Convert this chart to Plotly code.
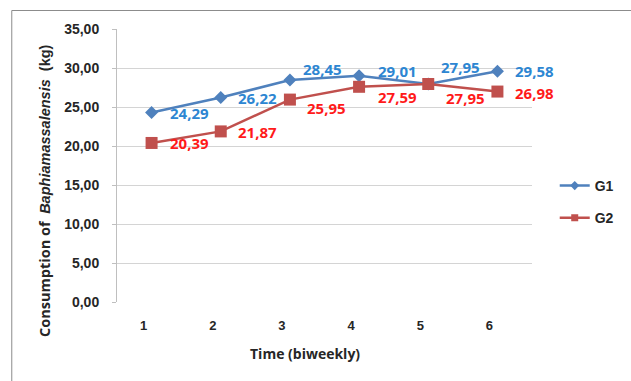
import plotly.graph_objects as go

# Biweekly consumption per group
periods = [1, 2, 3, 4, 5, 6]
g1_values = [24.29, 26.22, 28.45, 29.01, 27.95, 29.58]
g2_values = [20.39, 21.87, 25.95, 27.59, 27.95, 26.98]
y_ticks = [0, 5, 10, 15, 20, 25, 30, 35]

# Label offsets (pixels) relative to each point
g1_label_dx = [16, 15, 11, 17, 11, 16]
g1_label_dy = [0, -1, 11, 5, 17, 0]
g2_label_dx = [16, 15, 15, 17, 16, 16]
g2_label_dy = [0, -1, -8, -10, -14, -1]

BLUE_LINE = "#4F81BD"
RED_LINE = "#C0504D"
BLUE_TEXT = "#2D86D2"
RED_TEXT = "#FF1A1A"

fig = go.Figure()
fig.add_trace(go.Scatter(
    x=periods, y=g1_values, name="G1", mode="lines+markers",
    line=dict(color=BLUE_LINE, width=2.5),
    marker=dict(symbol="diamond", size=10, color=BLUE_LINE),
    showlegend=False,
))
fig.add_trace(go.Scatter(
    x=periods, y=g2_values, name="G2", mode="lines+markers",
    line=dict(color=RED_LINE, width=2.5),
    marker=dict(symbol="square", size=12, color=RED_LINE),
    showlegend=False,
))
# Legend entries with smaller symbols
fig.add_trace(go.Scatter(
    x=[None], y=[None], name="G1", mode="lines+markers",
    line=dict(color=BLUE_LINE, width=2.5),
    marker=dict(symbol="diamond", size=7, color=BLUE_LINE),
    legendgroup="g1",
))
fig.add_trace(go.Scatter(
    x=[None], y=[None], name="G2", mode="lines+markers",
    line=dict(color=RED_LINE, width=2.5),
    marker=dict(symbol="square", size=7, color=RED_LINE),
    legendgroup="g2",
))


def fmt(v):
    return f"{v:.2f}".replace(".", ",")


annotations = []
for x, v, dx, dy in zip(periods, g1_values, g1_label_dx, g1_label_dy):
    annotations.append(dict(
        x=x, y=v, text=f"<b>{fmt(v)}</b>", showarrow=False,
        xanchor="left", yanchor="middle", xshift=dx, yshift=dy,
        font=dict(family="Open Sans", size=15, color=BLUE_TEXT),
    ))
for x, v, dx, dy in zip(periods, g2_values, g2_label_dx, g2_label_dy):
    annotations.append(dict(
        x=x, y=v, text=f"<b>{fmt(v)}</b>", showarrow=False,
        xanchor="left", yanchor="middle", xshift=dx, yshift=dy,
        font=dict(family="Open Sans", size=15, color=RED_TEXT),
    ))

# Axis titles
annotations.append(dict(
    xref="paper", yref="paper", x=(43 - 117) / 420, y=(302 - 191) / 273,
    textangle=-90, showarrow=False, xanchor="center", yanchor="middle",
    text=("<b>Consumption of  </b>"
          "<span style='font-family:Liberation Sans;font-weight:bold'>"
          "<b><i>Baphiamassalensis</i>  (kg)</b></span>"),
    font=dict(family="Open Sans", size=14.5, color="#262626"),
))
annotations.append(dict(
    xref="paper", yref="paper", x=(307 - 117) / 420, y=-(353 - 302) / 273,
    showarrow=False, xanchor="center", yanchor="middle",
    text="<b>Time (biweekly)</b>",
    font=dict(family="Open Sans", size=14, color="#262626"),
))

fig.update_layout(
    width=631, height=381,
    margin=dict(l=117, r=94, t=29, b=79),
    paper_bgcolor="white", plot_bgcolor="white",
    separators=",.",
    showlegend=True,
    legend=dict(
        x=(560 - 117) / 420, y=(302 - 170) / 273, xanchor="left", yanchor="top",
        font=dict(family="Liberation Sans", size=14, color="#262626", weight="bold"),
        traceorder="grouped", tracegroupgap=11,
        bgcolor="rgba(0,0,0,0)", itemwidth=30,
    ),
    annotations=annotations,
    shapes=[dict(
        type="rect", xref="paper", yref="paper",
        x0=(10.5 - 117) / 420, x1=1.5, y0=-0.5, y1=1 + (29 - 10.5) / 273,
        line=dict(color="#8C8C8C", width=1), layer="below",
    )],
)

fig.update_xaxes(
    range=[0.5, 6.5], tickvals=periods,
    showgrid=False, zeroline=False, showline=False,
    ticks="", ticklabelstandoff=14, ticklabelshift=-8,
    tickfont=dict(family="Liberation Sans", size=13, color="#262626", weight="bold"),
)
fig.update_yaxes(
    range=[0, 35], tickvals=y_ticks, tickformat=".2f",
    showgrid=True, gridcolor="#D4D4D4", gridwidth=1,
    zeroline=False, showline=True, linecolor="#BFBFBF", linewidth=1,
    ticks="outside", ticklen=4, tickcolor="#BFBFBF",
    tickfont=dict(family="Liberation Sans", size=14, color="#262626", weight="bold"),
    ticklabelstandoff=10,
)

fig.write_html("out.html")
